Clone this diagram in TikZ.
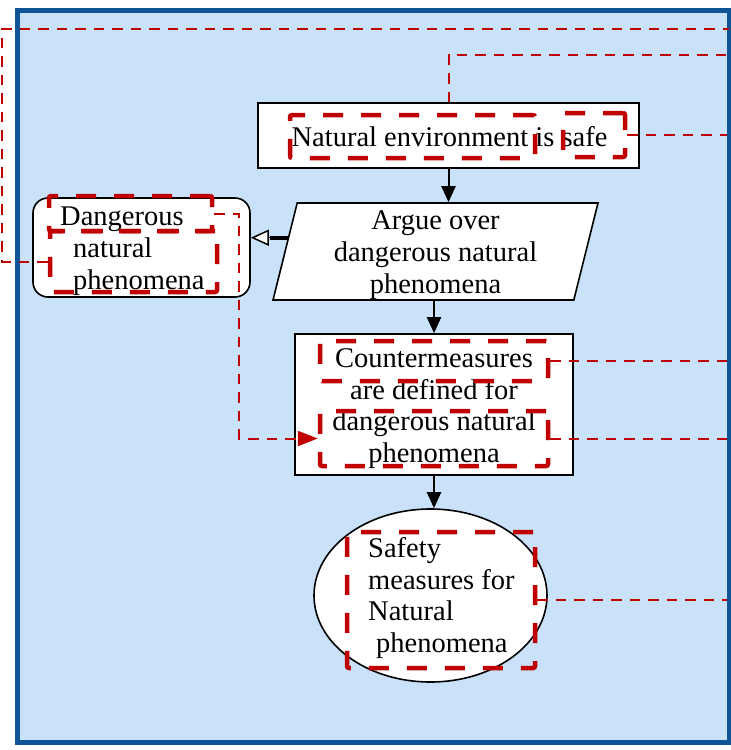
\documentclass[tikz,border=0pt]{standalone}
\usepackage{fontspec}
\setmainfont{Liberation Serif}
\usetikzlibrary{arrows.meta,shapes.geometric,calc}
\definecolor{paneblue}{HTML}{C9E2F9}
\definecolor{panerim}{HTML}{0E5496}
\definecolor{markred}{HTML}{C00000}
\begin{document}
\begin{tikzpicture}[x=1pt,y=-1pt,
  every node/.style={font=\fontsize{28.5}{31.7}\selectfont, text=black},
  stepbox/.style={draw=black, line width=1.6pt, fill=white, inner sep=0pt},
  steptext/.style={inner sep=0pt},
  markbox/.style={draw=markred, line width=4.5pt, dash pattern=on 20pt off 18pt,
    rounded corners=2pt, inner sep=0pt},
  link/.style={draw=markred, line width=2pt, dash pattern=on 10.5pt off 8pt},
  flow/.style={draw=black, line width=2pt, -{Triangle[length=16pt,width=14pt]}},
]
% page and panel
\fill[white] (0,0) rectangle (731,750);
\useasboundingbox (0,0) rectangle (731,750);
\draw[panerim, fill=paneblue, line width=4.5pt] (17.5,10.5) rectangle (729,742.7);

% main argument elements
\node[stepbox, minimum width=381pt, minimum height=65pt] (goal) at (448.5,135.5) {};
\node[steptext] (goaltext) at (449.5,137) {Natural environment is safe};
% parallelogram: body 276.6 x 97, slanted sides at 76 degrees
\node[stepbox, shape=trapezium, trapezium left angle=76, trapezium right angle=104]
  (argue) at (435.5,251.5) {\phantom{\rule[-48.5pt]{276.6pt}{97pt}}};
\node[steptext, align=center] (arguetext) at (435.5,255)
  {Argue over\\dangerous natural\\phenomena};
\node[stepbox, rounded corners=15pt, minimum width=217pt, minimum height=99pt]
  (hazard) at (141.5,247.5) {};
\node[steptext, anchor=west, align=left] (hazardtext) at (60,251)
  {Dangerous\\\hspace*{13pt}natural\\\hspace*{13pt}phenomena};
\node[stepbox, minimum width=278pt, minimum height=141pt] (counter) at (434,404.5) {};
\node[steptext, align=center] (countertext) at (434,408.5)
  {Countermeasures\\are defined for\\dangerous natural\\phenomena};
\node[stepbox, ellipse, minimum width=233pt, minimum height=173pt]
  (safety) at (430.5,595.5) {};
\node[steptext, anchor=west, align=left] (safetytext) at (368,598)
  {Safety\\measures for\\Natural\\\hspace*{8pt}phenomena};

% highlighted phrases
\node[markbox, minimum width=245pt, minimum height=43pt] (hlnat) at (412.5,136.5) {};
\node[markbox, minimum width=62pt, minimum height=44pt] (hlsafe) at (594,135) {};
\node[markbox, minimum width=163pt, minimum height=35pt] (hlhazA) at (130.5,213.5) {};
\node[markbox, minimum width=167pt, minimum height=61pt] (hlhazB) at (133.5,261.5) {};
\node[markbox, minimum width=228pt, minimum height=40pt] (hlcmA) at (434,361) {};
\node[markbox, minimum width=228pt, minimum height=55pt] (hlcmB) at (434,438.5) {};
\node[markbox, minimum width=188pt, minimum height=136pt] (hlsafety) at (441,600) {};

% trace links
\coordinate (rimR) at (727,0);
\coordinate (farL) at (2,29);
\coordinate (topR) at (729,29);
\coordinate (midR) at (729,55);
\draw[link] (hlhazB.west) -| (farL) -- (topR);
\draw[link] (goal.north) |- (midR);
\draw[link] (hlsafe.east) -- (hlsafe.east -| rimR);
\draw[link] (hlcmA.east) -- (hlcmA.east -| rimR);
\draw[link] (hlcmB.east) -- (hlcmB.east -| rimR);
\draw[link] (hlsafety.east) -- (hlsafety.east -| rimR);
\draw[link, -{Triangle[length=20pt,width=15pt]}] (hlhazA.east) -- ++(25,0) |- (hlcmB.west);

% flow of the argument
\draw[flow] (goal.south) -- (goal.south |- argue.north);
\draw[flow] (counter.north |- argue.south) -- (counter.north);
\draw[flow] (counter.south) -- (counter.south |- safety.north);
% context link: thick shaft ending in an open triangle
\coordinate (argL) at ($(argue.top left corner)!0.36!(argue.bottom left corner)$);
\draw[line width=1.5pt, -{Triangle[length=18pt,width=16pt,fill=white]}]
  (argL) -- (argL -| hazard.east);
\draw[line width=4pt] (argL) -- ([xshift=19pt]argL -| hazard.east);
\end{tikzpicture}
\end{document}
